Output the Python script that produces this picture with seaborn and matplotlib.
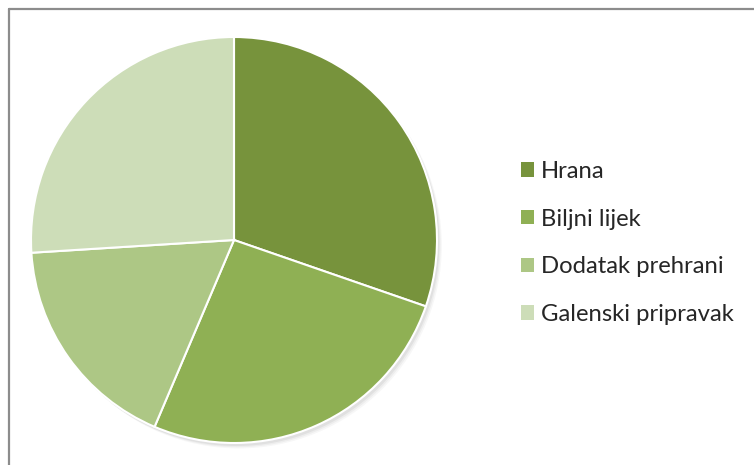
import matplotlib
matplotlib.use("Agg")
import matplotlib.pyplot as plt
import seaborn as sns
from matplotlib.patches import Patch, Circle
from matplotlib.lines import Line2D

kategorije = ["Hrana", "Biljni lijek", "Dodatak prehrani", "Galenski pripravak"]
udjeli = [30.3, 26.1, 17.6, 26.0]
boje = ["#77933c", "#8fb054", "#adc785", "#cdddb8"]


def main():
    sns.set_theme(style="white")
    plt.rcParams['font.family'] = ['Lato', 'DejaVu Sans']

    fig = plt.figure(figsize=(7.54, 4.65), dpi=100)
    W, H = 754, 465

    # okvir (vidljiv samo gore i lijevo)
    fig.add_artist(Line2D([8.5 / W, 1.1], [1 - 9.5 / H, 1 - 9.5 / H], color="#8c8c8c", lw=1.6))
    fig.add_artist(Line2D([8.5 / W, 8.5 / W], [1 - 9.5 / H, -0.1], color="#8c8c8c", lw=1.6))

    cx, cy, r = 234, 240, 203
    ax = fig.add_axes([(cx - r * 1.05) / W, (H - cy - r * 1.05) / H, 2 * r * 1.05 / W, 2 * r * 1.05 / H])

    # blaga sjena
    for i, a in enumerate([0.05, 0.04, 0.03]):
        ax.add_patch(Circle((0.012 + 0.006 * i, -0.015 - 0.006 * i), 1.0, color="black", alpha=a, lw=0, zorder=0))

    ax.pie(udjeli, colors=boje, startangle=90, counterclock=False,
           wedgeprops=dict(edgecolor="white", linewidth=1.5), radius=1.0)
    ax.set_xlim(-1.05, 1.05)
    ax.set_ylim(-1.05, 1.05)
    ax.set_aspect("equal")
    ax.axis("off")

    handles = [Patch(facecolor=c, edgecolor="none") for c in boje]
    fig.legend(handles, kategorije, loc="center left", bbox_to_anchor=(511 / W, 1 - 243 / H),
               frameon=False, fontsize=17.2, handlelength=0.55, handleheight=0.55,
               handletextpad=0.3, labelspacing=1.12, borderaxespad=0)

    plt.savefig("out.png", dpi=100)
    plt.close()


if __name__ == "__main__":
    main()
